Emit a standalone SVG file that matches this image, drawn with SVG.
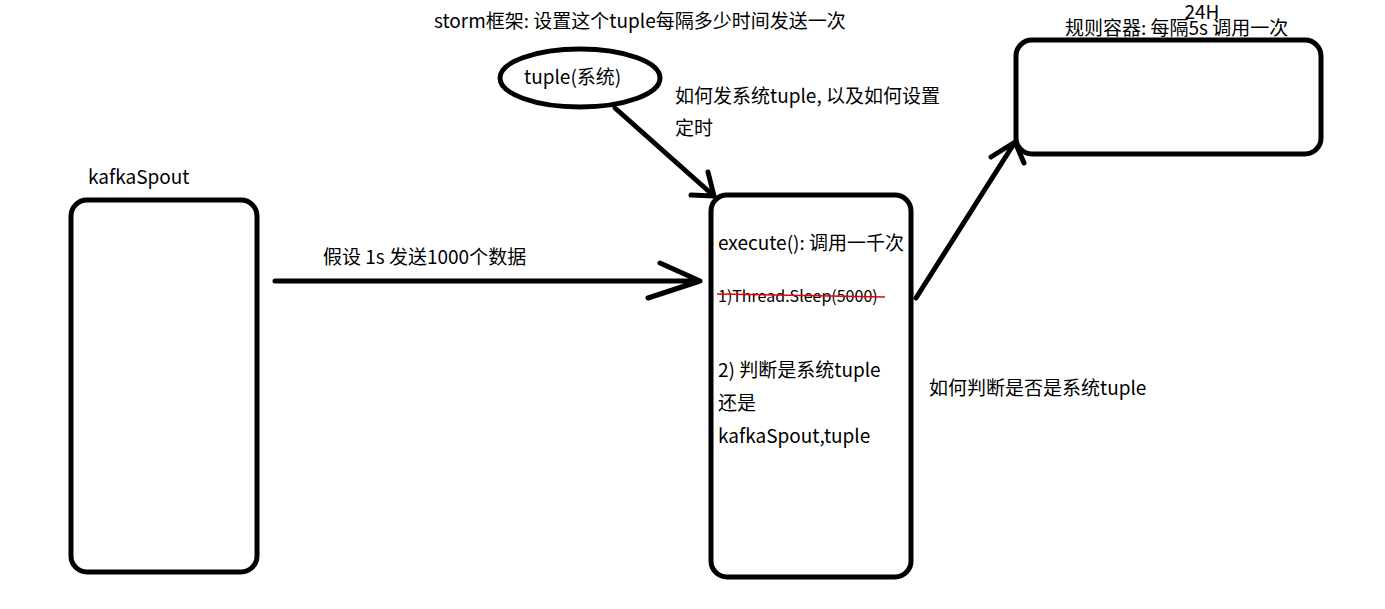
<svg xmlns="http://www.w3.org/2000/svg" width="1385" height="609" viewBox="0 0 1385 609">
<style>
.box{fill:none;stroke:#000;stroke-width:5;stroke-linejoin:round}
.ln{fill:none;stroke:#000;stroke-width:5;stroke-linecap:round;stroke-linejoin:round}
.t{font-family:"Noto Sans CJK SC","Microsoft YaHei",sans-serif;font-size:19px;fill:#000}
.s{font-size:16px}
</style>
<rect width="1385" height="609" fill="#fff"/>
<g id="kafkaSpout">
<rect class="box" x="71" y="200" width="186" height="372" rx="16"/>
<text class="t" x="88" y="184">kafkaSpout</text>
</g>
<g id="bolt">
<rect class="box" x="711" y="195" width="200" height="382" rx="16"/>
<text class="t" x="718" y="250">execute(): 调用一千次</text>
<text class="t s" x="718" y="302">1)Thread.Sleep(5000)</text>
<line x1="717" y1="294" x2="885" y2="297" stroke="#e00" stroke-width="1.5"/>
<text class="t" x="718" y="377">2) 判断是系统tuple</text>
<text class="t" x="718" y="410">还是</text>
<text class="t" x="718" y="443">kafkaSpout,tuple</text>
</g>
<g id="systuple">
<ellipse class="box" cx="580" cy="78" rx="80" ry="29"/>
<text class="t" x="524" y="84">tuple(系统)</text>
</g>
<g id="rules">
<rect class="box" x="1016" y="40" width="305" height="114" rx="16"/>
<text class="t" x="1202" y="19" text-anchor="middle">24H</text>
<text class="t" x="1065" y="35">规则容器: 每隔5s 调用一次</text>
</g>
<g id="labels">
<text class="t" x="434" y="28">storm框架: 设置这个tuple每隔多少时间发送一次</text>
<text class="t" x="675" y="103">如何发系统tuple, 以及如何设置</text>
<text class="t" x="675" y="135">定时</text>
<text class="t" x="323" y="264">假设 1s 发送1000个数据</text>
<text class="t" x="929" y="395">如何判断是否是系统tuple</text>
</g>
<g id="connectors">
<path class="ln" d="M275 281 L700 281 M660 263 L700 281 L648 298"/>
<path class="ln" d="M615 108 L714 196 M708 172 L714 196 L691 195"/>
<path class="ln" d="M916 298 L1015 142 M991 157 L1015 142 L1024 163"/>
</g>
</svg>
